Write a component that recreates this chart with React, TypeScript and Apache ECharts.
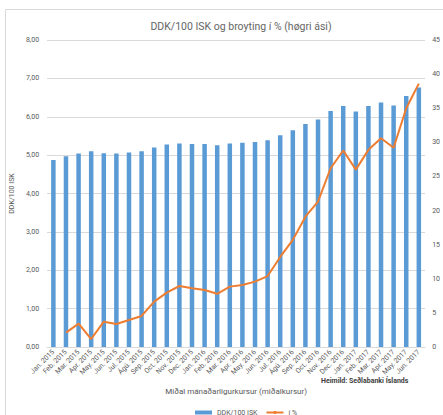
import React, { useEffect, useRef } from "react";
import * as echarts from "echarts";

const categories = [
  "Jan. 2015", "Feb. 2015", "Mar. 2015", "Apr. 2015", "May. 2015", "Jun. 2015",
  "Jul. 2015", "Ágú. 2015", "Sep. 2015", "Oct. 2015", "Nov. 2015", "Dec. 2015",
  "Jan. 2016", "Feb. 2016", "Mar. 2016", "Apr. 2016", "May. 2016", "Jun. 2016",
  "Jul. 2016", "Ágú. 2016", "Sep. 2016", "Oct. 2016", "Nov. 2016", "Dec. 2016",
  "Jan. 2017", "Feb. 2017", "Mar. 2017", "Apr. 2017", "May. 2017", "Jun. 2017",
];

const ddkValues = [
  4.87, 4.97, 5.04, 5.1, 5.05, 5.04, 5.07, 5.1, 5.2, 5.28, 5.3, 5.29,
  5.29, 5.26, 5.3, 5.32, 5.34, 5.39, 5.52, 5.65, 5.81, 5.93, 6.15, 6.28,
  6.14, 6.28, 6.37, 6.29, 6.54, 6.76,
];

const pctValues: (number | null)[] = [
  null, 2.1, 3.42, 1.17, 3.71, 3.37, 3.96, 4.55, 6.65, 7.97, 8.94, 8.6,
  8.36, 7.8, 8.85, 9.09, 9.58, 10.4, 13.2, 15.7, 19.1, 21.3, 26.2, 28.8,
  26.0, 28.9, 30.6, 29.2, 35.0, 38.6,
];

const leftTicks = { min: 0, max: 8, interval: 1 };
const rightTicks = { min: 0, max: 45, interval: 5 };

const FONT = "Roboto, 'Liberation Sans', sans-serif";
const GREY = "#595959";

export default function App() {
  const ref = useRef<HTMLDivElement>(null);
  useEffect(() => {
    if (!ref.current) return;
    const chart = echarts.init(ref.current, undefined, { renderer: "svg" });
    chart.setOption({
      animation: false,
      backgroundColor: "#ffffff",
      textStyle: { fontFamily: FONT },
      title: {
        text: "DDK/100 ISK og broyting í % (høgri ási)",
        left: 236,
        textAlign: "center",
        top: 16,
        textStyle: { fontSize: 10.5, fontWeight: "normal", color: "#666666", fontFamily: FONT },
      },
      grid: { left: 47, right: 16, top: 40, bottom: 68, containLabel: false },
      legend: {
        top: 404,
        left: 190,
        itemGap: 8,
        itemWidth: 17,
        itemHeight: 4,
        textStyle: { fontSize: 7, color: GREY, fontFamily: FONT },
        data: [
          { name: "DDK/100 ISK", icon: "rect" },
          { name: "í %" },
        ],
      },
      graphic: [
        {
          type: "rect",
          shape: { x: 5.5, y: 9.5, width: 460, height: 430 },
          style: { fill: "none", stroke: "#d9d9d9", lineWidth: 1 },
          silent: true,
          z: -10,
        },
        {
          type: "text",
          left: 321,
          top: 377,
          style: {
            text: "Heimild: Seðlabanki Íslands",
            fontSize: 7,
            fontWeight: "bold",
            fill: "#404040",
            fontFamily: FONT,
          },
        },
      ],
      xAxis: {
        type: "category",
        data: categories,
        name: "Miðal mánaðarligurkursur (miðalkursur)",
        nameLocation: "middle",
        nameGap: 40,
        nameTextStyle: { fontSize: 8, color: GREY, fontFamily: FONT },
        axisLine: { lineStyle: { color: "#d9d9d9" } },
        axisTick: { show: false },
        axisLabel: { rotate: 45, fontSize: 7, color: GREY, margin: 4, interval: 0 },
      },
      yAxis: [
        {
          type: "value",
          min: leftTicks.min,
          max: leftTicks.max,
          interval: leftTicks.interval,
          name: "DDK/100 ISK",
          nameLocation: "middle",
          nameGap: 26,
          nameRotate: 90,
          nameTextStyle: { fontSize: 7, color: GREY, fontFamily: FONT },
          axisLabel: {
            fontSize: 7,
            color: GREY,
            margin: 8,
            formatter: (v: number) => v.toFixed(2).replace(".", ","),
          },
          splitLine: { lineStyle: { color: "#d9d9d9", width: 1 } },
          axisLine: { show: false },
          axisTick: { show: false },
        },
        {
          type: "value",
          min: rightTicks.min,
          max: rightTicks.max,
          interval: rightTicks.interval,
          position: "right",
          axisLabel: { fontSize: 7, color: GREY, margin: 7 },
          splitLine: { show: false },
          axisLine: { show: false },
          axisTick: { show: false },
        },
      ],
      series: [
        {
          name: "DDK/100 ISK",
          type: "bar",
          data: ddkValues,
          barWidth: 4.5,
          itemStyle: { color: "#5B9BD5" },
          yAxisIndex: 0,
        },
        {
          name: "í %",
          type: "line",
          data: pctValues,
          yAxisIndex: 1,
          symbol: "none",
          lineStyle: { color: "#ED7D31", width: 2 },
          itemStyle: { color: "#ED7D31" },
        },
      ],
    });
    return () => chart.dispose();
  }, []);
  return (
    <div
      ref={ref}
      style={{ position: "fixed", left: 0, top: 0, width: 443, height: 415 }}
    />
  );
}
